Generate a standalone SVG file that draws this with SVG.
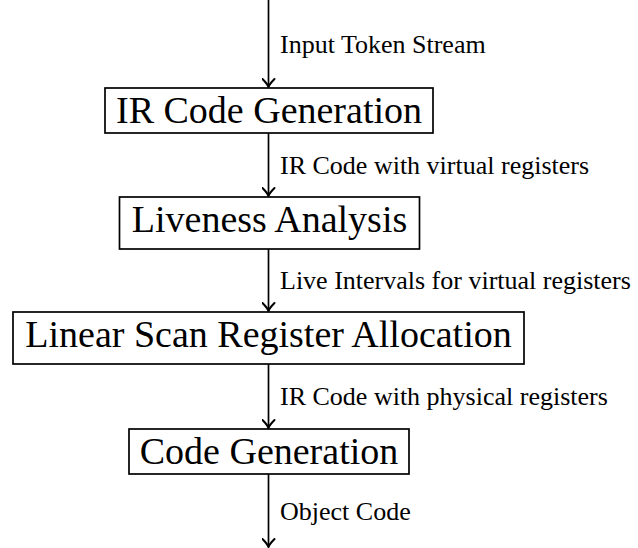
<svg xmlns="http://www.w3.org/2000/svg" width="638" height="548" viewBox="0 0 638 548">
<defs>
<style>
.box{fill:#fff;stroke:#000;stroke-width:1.7}
.t{font-family:"Liberation Serif","Times New Roman",serif;font-size:38px;text-anchor:middle;fill:#000}
.l{font-family:"Liberation Serif","Times New Roman",serif;font-size:26px;fill:#000}
.c{stroke:#000;stroke-width:1.7;fill:none}
</style>
<marker id="ah" viewBox="-10 -7 12 14" markerWidth="12" markerHeight="14" refX="0" refY="0" orient="auto" markerUnits="userSpaceOnUse">
<path d="M-8,-6 Q-3,-1 0,0 Q-3,1 -8,6" fill="none" stroke="#000" stroke-width="2" stroke-linecap="round"/>
</marker>
</defs>
<rect width="638" height="548" fill="#fff"/>
<g id="connectors">
<line class="c" x1="268.5" y1="0" x2="268.5" y2="87" marker-end="url(#ah)"/>
<line class="c" x1="268.5" y1="133" x2="268.5" y2="196" marker-end="url(#ah)"/>
<line class="c" x1="268.5" y1="249" x2="268.5" y2="311" marker-end="url(#ah)"/>
<line class="c" x1="268.5" y1="364" x2="268.5" y2="428" marker-end="url(#ah)"/>
<line class="c" x1="268.5" y1="474" x2="268.5" y2="547" marker-end="url(#ah)"/>
<text class="l" x="280" y="53">Input Token Stream</text>
<text class="l" x="280" y="173.5">IR Code with virtual registers</text>
<text class="l" x="280" y="289">Live Intervals for virtual registers</text>
<text class="l" x="280" y="405">IR Code with physical registers</text>
<text class="l" x="280" y="519.5">Object Code</text>
</g>
<g id="ir-codegen">
<rect class="box" x="105" y="88" width="328" height="45"/>
<text class="t" x="269" y="123">IR Code Generation</text>
</g>
<g id="liveness">
<rect class="box" x="119.5" y="197" width="300" height="52"/>
<text class="t" x="269.5" y="232">Liveness Analysis</text>
</g>
<g id="linear-scan">
<rect class="box" x="13" y="312" width="511" height="52"/>
<text class="t" x="268.5" y="347">Linear Scan Register Allocation</text>
</g>
<g id="codegen">
<rect class="box" x="129" y="429" width="280" height="45"/>
<text class="t" x="269" y="464">Code Generation</text>
</g>
</svg>
